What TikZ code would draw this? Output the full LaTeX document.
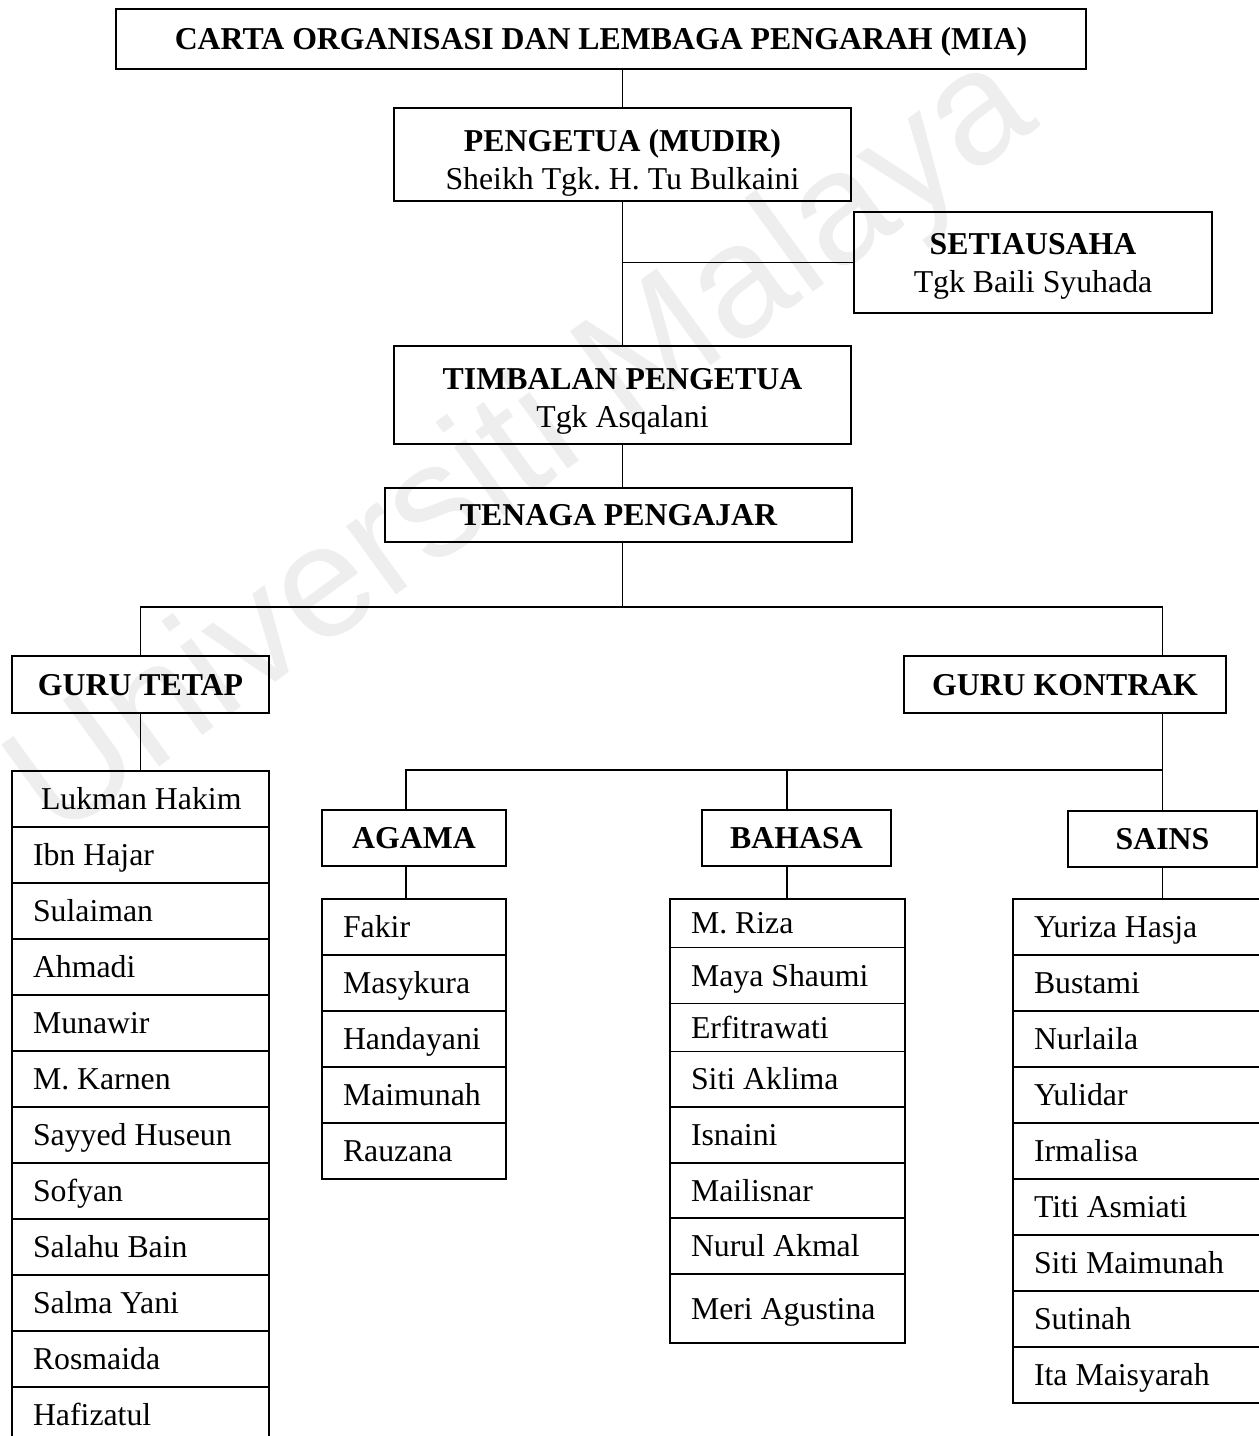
\documentclass[tikz,border=0pt]{standalone}
\usepackage{fontspec}
\setmainfont{Liberation Serif}
\newfontfamily\wmfont{Liberation Sans}
\frenchspacing
\begin{document}
\begin{tikzpicture}[x=1pt, y=-1pt, line cap=rect, line join=miter, line width=1.4pt, font=\fontsize{31.8}{38}\selectfont]
	\tikzset{box/.style={draw, line width=1.8pt, inner sep=0pt, text height=21pt, text depth=#1},
		box/.default=38pt,
		headbox/.style={draw, line width=1.8pt, inner sep=0pt, text height=21pt, text depth=0pt, font=\fontsize{31.8}{38}\selectfont\bfseries},
		rowbox/.style={draw, line width=1.6pt, inner xsep=21pt, inner ysep=0pt, minimum height=56pt, text height=21pt, text depth=0pt}}
	\newcommand{\twolines}[2]{\begin{tabular}[t]{@{}c@{}}\textbf{#1}\\#2\end{tabular}}
	\useasboundingbox (0,0) rectangle (1259,1436);
	% watermark
	\node[rotate=36, text=gray!13, font=\wmfont\fontsize{160}{160}\selectfont] (wm) at (525,450) {Universiti Malaya};
	% upper part
	\node[headbox, minimum width=970pt, minimum height=60pt] (title) at (601,39) {CARTA ORGANISASI DAN LEMBAGA PENGARAH (MIA)};
	\node[box=28pt, minimum width=457pt, minimum height=93pt] (pengetua) at (622.5,154.5) {\twolines{PENGETUA (MUDIR)}{Sheikh Tgk. H. Tu Bulkaini}};
	\node[box, minimum width=358pt, minimum height=101pt] (setia) at (1033,262.5) {\twolines{SETIAUSAHA}{Tgk Baili Syuhada}};
	\node[box=32pt, minimum width=457pt, minimum height=98pt] (timbalan) at (622.5,395) {\twolines{TIMBALAN PENGETUA}{Tgk Asqalani}};
	\node[headbox, minimum width=467pt, minimum height=54pt] (tenaga) at (618.5,515) {TENAGA PENGAJAR};
	\draw (pengetua.north |- title.south) -- (pengetua.north);
	\draw (pengetua.south) -- (timbalan.north);
	\draw (pengetua.south |- setia.west) -- (setia.west);
	\draw (timbalan.south) -- (timbalan.south |- tenaga.north);
	% guru tetap / guru kontrak
	\node[headbox, minimum width=257pt, minimum height=57pt] (gtetap) at (140.5,684.5) {GURU TETAP};
	\node[headbox, minimum width=322pt, minimum height=57pt] (gkontrak) at (1065,684.5) {GURU KONTRAK};
	\coordinate (tbus) at (140.5,607);
	\coordinate (kbus) at (1162.5,607);
	\draw (tenaga.south -| timbalan.south) -- (tbus -| timbalan.south);
	\draw (tbus |- gtetap.north) -- (tbus) -- (kbus) -- (kbus |- gkontrak.north);
	% subjects
	\node[headbox, minimum width=184pt, minimum height=56pt] (agama) at (414,838) {AGAMA};
	\node[headbox, minimum width=189pt, minimum height=56pt] (bahasa) at (796.5,838) {BAHASA};
	\node[headbox, minimum width=189pt, minimum height=56pt] (sains) at (1162.5,839) {SAINS};
	\coordinate (abus) at (406,770);
	\coordinate (bbus) at (787,770);
	\draw (gkontrak.south -| sains.north) -- (sains.north);
	\draw (abus |- agama.north) -- (abus) -- (abus -| sains.north);
	\draw (bbus) -- (bbus |- bahasa.north);
	% name lists
	\foreach \nm [count=\i] in {\hspace*{8pt}Lukman Hakim, Ibn Hajar, Sulaiman, Ahmadi, Munawir, M. Karnen, Sayyed Huseun, Sofyan, Salahu Bain, Salma Yani, Rosmaida, Hafizatul}
		\node[rowbox] (tetap\i) at (140.5,743+56*\i) {\makebox[215pt][l]{\nm}};
	\foreach \nm [count=\i] in {Fakir, Masykura, Handayani, Maimunah, Rauzana}
		\node[rowbox] (agm\i) at (414,871+56*\i) {\makebox[142pt][l]{\nm}};
	\foreach \tp/\bt/\nm [count=\i] in {899/947.5/M. Riza, 947.5/1003.5/Maya Shaumi, 1003.5/1051.5/Erfitrawati, 1051.5/1107/Siti Aklima, 1107/1163/Isnaini, 1163/1218/Mailisnar, 1218/1274/Nurul Akmal, 1274/1343/Meri Agustina}
		\node[rowbox, minimum height=\bt pt-\tp pt] (bhs\i) at (787.5,{(\tp+\bt)/2}) {\makebox[193pt][l]{\nm}};
	\foreach \nm [count=\i] in {Yuriza Hasja, Bustami, Nurlaila, Yulidar, Irmalisa, Titi Asmiati, Siti Maimunah, Sutinah, Ita Maisyarah}
		\node[rowbox] (sns\i) at (1137,871+56*\i) {\makebox[206pt][l]{\nm}};
	\draw (gtetap.south) -- (tetap1.north);
	\draw (abus |- agama.south) -- (abus |- agm1.north);
	\draw (bbus |- bahasa.south) -- (bbus |- bhs1.north);
	\draw (sains.south) -- (sains.south |- sns1.north);
\end{tikzpicture}
\end{document}
